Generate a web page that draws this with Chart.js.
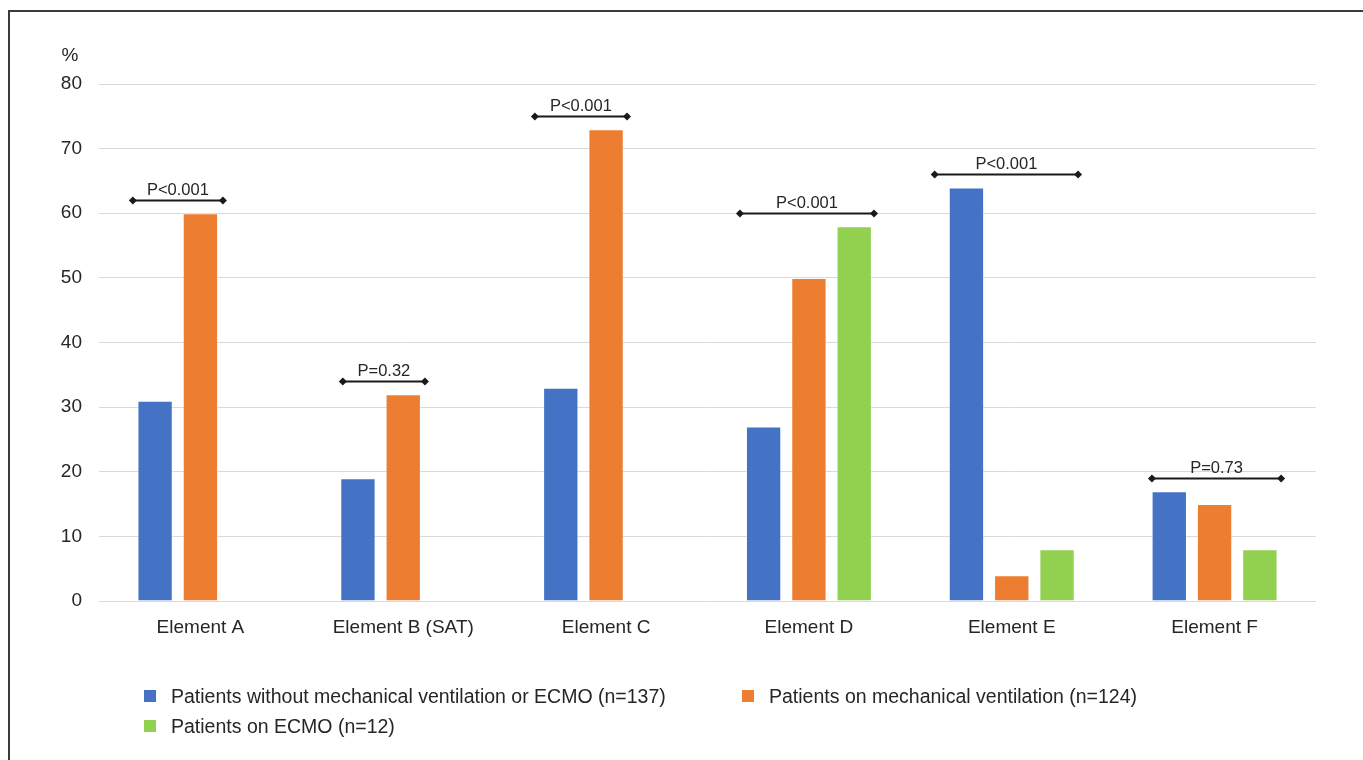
<!DOCTYPE html>
<html>
<head>
<meta charset="utf-8">
<script src="https://cdn.jsdelivr.net/npm/chart.js@4.4.1/dist/chart.umd.min.js"></script>
<style>
  html, body { margin: 0; padding: 0; background: #fff; width: 1363px; height: 760px; overflow: hidden; }
  #frame { position: absolute; left: 8px; top: 10px; width: 1400px; height: 800px; border: 2px solid #3a3a3a; box-sizing: border-box; }
  #c { position: absolute; left: 0; top: 0; }
  .lg { position: absolute; font-family: "Liberation Sans", Arial, sans-serif; font-size: 19.5px; color: #262626; white-space: nowrap; line-height: 22px; }
  .lg span.sw { position: absolute; left: 0; top: 5px; width: 12px; height: 12px; }
  .lg span.tx { position: absolute; left: 27px; top: 0; }
</style>
</head>
<body>
<div id="frame"></div>
<canvas id="c" width="1363" height="760"></canvas>
<div id="legend"></div>
<script>
// ---- data ----
const categories = ['Element A', 'Element B (SAT)', 'Element C', 'Element D', 'Element E', 'Element F'];
const seriesNames = [
  'Patients without mechanical ventilation or ECMO (n=137)',
  'Patients on mechanical ventilation (n=124)',
  'Patients on ECMO (n=12)'
];
const noVentValues = [31, 19, 33, 27, 64, 17];
const mechVentValues = [60, 32, 73, 50, 4, 15];
const ecmoValues = [null, null, null, 58, 8, 8];
const yTicks = [0, 10, 20, 30, 40, 50, 60, 70, 80];
const pLabels = ['P<0.001', 'P=0.32', 'P<0.001', 'P<0.001', 'P<0.001', 'P=0.73'];
const pLevels = [62, 34, 75, 60, 66, 19];
const pFrom = [-0.333, -0.298, -0.351, -0.340, -0.380, -0.309];
const pTo = [0.111, 0.107, 0.103, 0.321, 0.327, 0.328];

const colors = ['#4472C4', '#ED7D31', '#92D050'];
const FONT = '"Liberation Sans", Arial, sans-serif';

const extras = {
  id: 'extras',
  afterDatasetsDraw(chart) {
    const ctx = chart.ctx;
    const x = chart.scales.x, y = chart.scales.y;
    ctx.save();
    // "%" unit label
    ctx.fillStyle = '#262626';
    ctx.font = '19px ' + FONT;
    ctx.textAlign = 'center';
    ctx.textBaseline = 'middle';
    ctx.fillText('%', 70, 56);
    // significance brackets
    for (let i = 0; i < pLabels.length; i++) {
      const x1 = x.getPixelForValue(i + pFrom[i]);
      const x2 = x.getPixelForValue(i + pTo[i]);
      const yy = Math.round(y.getPixelForValue(pLevels[i])) + 0.5;
      ctx.strokeStyle = '#1a1a1a';
      ctx.lineWidth = 2;
      ctx.beginPath();
      ctx.moveTo(x1, yy);
      ctx.lineTo(x2, yy);
      ctx.stroke();
      ctx.fillStyle = '#1a1a1a';
      [x1, x2].forEach(px => {
        ctx.beginPath();
        ctx.moveTo(px - 4, yy);
        ctx.lineTo(px, yy - 4);
        ctx.lineTo(px + 4, yy);
        ctx.lineTo(px, yy + 4);
        ctx.closePath();
        ctx.fill();
      });
      ctx.fillStyle = '#262626';
      ctx.font = '16.5px ' + FONT;
      ctx.textAlign = 'center';
      ctx.textBaseline = 'alphabetic';
      ctx.fillText(pLabels[i], (x1 + x2) / 2, yy - 6);
    }
    ctx.restore();
  }
};

const chart = new Chart(document.getElementById('c'), {
  type: 'bar',
  data: {
    labels: categories,
    datasets: [
      { label: seriesNames[0], data: noVentValues, backgroundColor: colors[0] },
      { label: seriesNames[1], data: mechVentValues, backgroundColor: colors[1] },
      { label: seriesNames[2], data: ecmoValues, backgroundColor: colors[2] }
    ].map(d => Object.assign(d, {
      borderColor: 'rgba(255,255,255,0.35)',
      borderWidth: 1,
      categoryPercentage: 0.67,
      barPercentage: 0.78
    }))
  },
  options: {
    responsive: false,
    animation: false,
    events: [],
    layout: { padding: { left: 0, right: 47, top: 84, bottom: 0 } },
    plugins: { legend: { display: false }, tooltip: { enabled: false }, title: { display: false } },
    scales: {
      x: {
        grid: { display: false },
        border: { display: false },
        ticks: { font: { family: FONT, size: 19 }, color: '#262626', padding: 7, maxRotation: 0, autoSkip: false },
        afterFit(s) { s.height = 159; }
      },
      y: {
        min: yTicks[0],
        max: yTicks[yTicks.length - 1],
        afterBuildTicks(s) { s.ticks = yTicks.map(v => ({ value: v })); },
        grid: { color: '#d9d9d9', lineWidth: 1, drawTicks: false },
        border: { display: false },
        ticks: { font: { family: FONT, size: 19 }, color: '#262626', padding: 17 },
        afterFit(s) { s.width = 99; }
      }
    }
  },
  plugins: [extras]
});

// legend built from the chart's datasets
const legendPos = [[144, 685], [742, 685], [144, 715]];
const lg = document.getElementById('legend');
chart.data.datasets.forEach((d, i) => {
  const el = document.createElement('div');
  el.className = 'lg';
  el.style.left = legendPos[i][0] + 'px';
  el.style.top = legendPos[i][1] + 'px';
  el.innerHTML = '<span class="sw" style="background:' + d.backgroundColor + '"></span><span class="tx"></span>';
  el.querySelector('.tx').textContent = d.label;
  lg.appendChild(el);
});
</script>
</body>
</html>
